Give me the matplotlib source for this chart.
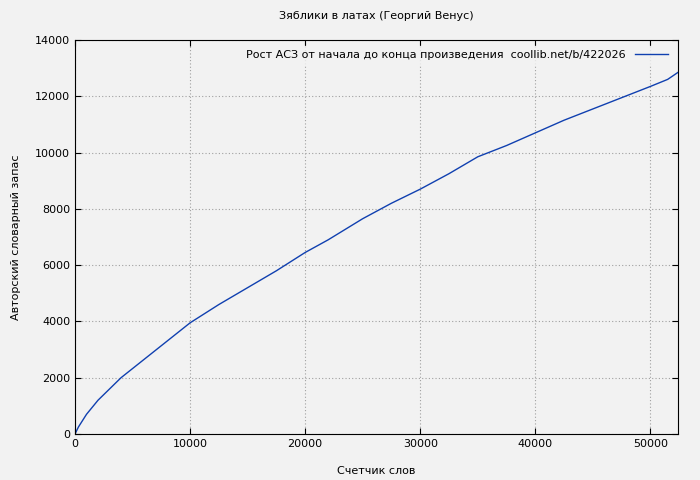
import matplotlib
matplotlib.use("Agg")
import matplotlib.pyplot as plt
import numpy as np

words = [0, 300, 1000, 2000, 3000, 4000, 6000, 8000, 10000, 12500, 15000, 17500, 20000, 22000, 25000, 27500, 30000, 32500, 35000, 37500, 40000, 42500, 45000, 47500, 50000, 51500, 52400]
vocab = [0, 250, 700, 1200, 1600, 2000, 2650, 3300, 3950, 4600, 5200, 5800, 6450, 6900, 7650, 8200, 8700, 9250, 9850, 10250, 10700, 11150, 11550, 11950, 12350, 12600, 12850]

fig = plt.figure(figsize=(7, 4.8), dpi=100)
fig.patch.set_facecolor("#f2f2f2")
ax = fig.add_axes([75/700, 1-434/480, 603/700, 394/480])
ax.set_facecolor("#f2f2f2")
ax.plot(words, vocab, color="#1040b0", lw=1, label="Рост АСЗ от начала до конца произведения  coollib.net/b/422026")
ax.set_xlim(0, 52400)
ax.set_ylim(0, 14000)
ax.set_xticks(range(0, 52401, 10000))
ax.set_yticks(range(0, 14001, 2000))
ax.grid(True, color="#a0a0a0", linestyle=(0, (1, 2)), lw=0.8)
ax.tick_params(labelsize=8, direction="in", length=4, top=True, right=True)
ax.set_xlabel("Счетчик слов", fontsize=8, labelpad=12)
ax.set_ylabel("Авторский словарный запас", fontsize=8, labelpad=10)
ax.set_title("Зяблики в латах (Георгий Венус)", fontsize=8, pad=15)
leg = ax.legend(loc="upper right", fontsize=8, frameon=True, facecolor="#f2f2f2", edgecolor="#f2f2f2", markerfirst=False, handlelength=3)
fig.savefig("out.png", dpi=100, facecolor=fig.get_facecolor())
